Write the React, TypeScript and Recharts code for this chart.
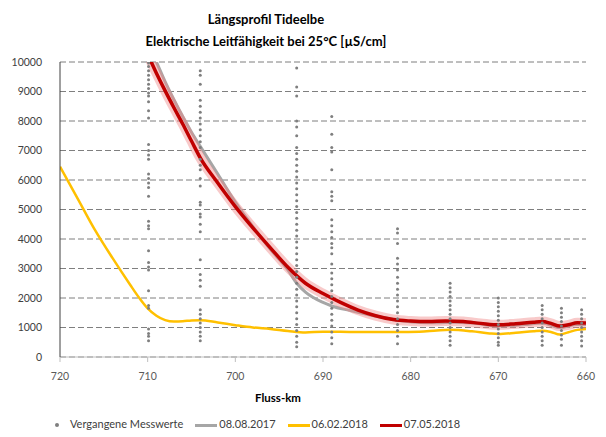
import React from 'react';
import { ComposedChart, Line, Scatter, XAxis, YAxis, CartesianGrid } from 'recharts';

// Messstellen (Fluss-km) und vergangene Messwerte je Station
const pastKm = [709.9, 704, 693, 689, 681.5, 675.5, 670, 665, 662.8, 660.5];
const pastValues = [
  [9970, 9850, 9700, 9550, 9400, 9250, 9100, 8950, 8850, 8650, 8350, 8100, 7200, 7000, 6850, 6700, 6200, 6050, 5900, 5750, 5450, 4600, 4450, 4350, 3600, 3200, 3050, 2950, 2250, 1750, 1650, 950, 800, 700, 550],
  [9700, 9550, 9250, 8700, 8500, 8300, 8100, 7900, 7700, 7500, 7300, 7100, 6700, 6500, 6350, 6050, 5800, 5250, 5150, 4850, 4750, 4500, 4250, 3300, 2800, 2600, 2400, 1600, 1450, 1300, 1150, 1000, 850, 700, 550],
  [9800, 9150, 8850, 8000, 7800, 7500, 7100, 6900, 6700, 6500, 6300, 6100, 5900, 5700, 5500, 5300, 5100, 4900, 4700, 4500, 4300, 4100, 3900, 3700, 3500, 3300, 3100, 2900, 2700, 2500, 2300, 2100, 1900, 1700, 1500, 1300, 1100, 900, 700, 500, 350],
  [8150, 7550, 7100, 6950, 6350, 5600, 5450, 5300, 4650, 4450, 4250, 4050, 3850, 3700, 3500, 3150, 2850, 2650, 2450, 2250, 2050, 1850, 1650, 1450, 1250, 1050, 850, 650, 450],
  [4350, 4200, 3850, 3350, 3150, 2950, 2700, 2500, 2300, 2100, 1900, 1700, 1500, 1300, 1100, 900, 700, 450],
  [2500, 2350, 2200, 2050, 1900, 1750, 1600, 1450, 1300, 1150, 1000, 850, 700, 550, 400],
  [2000, 1850, 1700, 1550, 1400, 1250, 1100, 950, 800, 650, 500, 400],
  [1750, 1600, 1450, 1300, 1150, 1000, 850, 700, 550, 400],
  [1650, 1500, 1350, 1200, 1050, 900, 750, 600, 400],
  [1600, 1450, 1300, 1150, 1000, 850, 700, 550, 370],
];

// 08.08.2017
const km2017 = [709.8, 709, 708, 707, 706, 705, 704, 702, 700, 698, 696, 694, 693, 692, 690, 689, 687, 685, 683, 681, 679, 677, 675, 673, 670, 667, 665, 663, 661, 660];
const val2017 = [10500, 10000, 9330, 8720, 8150, 7620, 7140, 6200, 5250, 4420, 3650, 2950, 2500, 2200, 1850, 1730, 1580, 1450, 1330, 1230, 1170, 1160, 1180, 1150, 1050, 1100, 1150, 1000, 1100, 1100];

// 06.02.2018
const km0602 = [720, 718, 716, 714, 712, 711, 710, 709, 708, 707, 706, 705, 704, 702, 700, 698, 696, 694, 692, 690, 689, 687, 685, 683, 681.5, 679, 677, 675.5, 673, 671, 670, 668, 666, 665, 664, 663, 662, 661, 660];
const val0602 = [6450, 5380, 4300, 3350, 2450, 2020, 1650, 1400, 1250, 1200, 1210, 1240, 1250, 1170, 1080, 1000, 950, 880, 830, 860, 860, 850, 850, 850, 850, 860, 900, 920, 870, 800, 780, 820, 870, 890, 850, 760, 840, 920, 950];

// 07.05.2018
const km0705 = [710.5, 709, 708, 707, 706, 705, 704, 702, 700, 698, 696, 694, 692, 690, 688, 686, 684, 682, 680, 678, 676, 674, 672, 670, 668, 666, 665, 664, 663, 662, 661, 660];
const val0705 = [10600, 9620, 9020, 8450, 7900, 7320, 6750, 5900, 5100, 4380, 3700, 3040, 2500, 2150, 1850, 1590, 1400, 1270, 1220, 1200, 1220, 1200, 1140, 1090, 1130, 1180, 1200, 1140, 1050, 1090, 1160, 1150];

const yTicks = [0, 1000, 2000, 3000, 4000, 5000, 6000, 7000, 8000, 9000, 10000];
const xTicks = [720, 710, 700, 690, 680, 670, 660];

const toSeries = (km: number[], v: number[]) => km.map((x, i) => ({ x, y: v[i] }));
const past = pastKm.flatMap((x, i) => pastValues[i].map((y) => ({ x, y })));
const s2017 = toSeries(km2017, val2017);
const s0602 = toSeries(km0602, val0602);
const s0705 = toSeries(km0705, val0705);

const font = 'Lato, "Open Sans", sans-serif';

const Dot = (p: any) => <circle cx={p.cx} cy={p.cy} r={1.5} fill="#7f7f7f" />;

const LegendLine = ({ color }: { color: string }) => (
  <span style={{ display: 'inline-block', width: 22, height: 3, background: color, verticalAlign: 'middle', marginRight: 2 }} />
);

export default function App() {
  return (
    <div style={{ position: 'absolute', left: 0, top: 0, width: 606, height: 437, background: '#fff', fontFamily: font }}>
      <div style={{ position: 'absolute', left: 116, width: 300, top: 8, textAlign: 'center', fontWeight: 700, fontSize: 13, lineHeight: '22px', color: '#000' }}>
        Längsprofil Tideelbe
        <br />
        Elektrische Leitfähigkeit bei 25°C [µS/cm]
      </div>
      <ComposedChart width={606} height={437} margin={{ top: 62, right: 20, bottom: 50, left: 0 }}>
        <CartesianGrid vertical={false} stroke="#7f7f7f" strokeDasharray="6 3" />
        <XAxis
          type="number"
          dataKey="x"
          domain={[660, 720]}
          reversed
          ticks={xTicks}
          interval={0}
          height={30}
          stroke="#bfbfbf"
          tickSize={5}
          tickMargin={11}
          tick={{ fill: '#595959', fontSize: 10.5, fontFamily: font }}
          allowDataOverflow
        />
        <XAxis xAxisId="top" orientation="top" type="number" domain={[660, 720]} reversed height={0} tick={false} tickLine={false} stroke="#595959" />
        <YAxis
          type="number"
          dataKey="y"
          domain={[0, 10000]}
          ticks={yTicks}
          interval={0}
          width={60}
          allowDataOverflow
          stroke="#404040"
          tickLine={false}
          tickMargin={12}
          tick={{ fill: '#404040', fontSize: 10.5, fontFamily: font }}
        />
        <YAxis yAxisId="right" orientation="right" domain={[0, 10000]} width={0} tick={false} tickLine={false} stroke="#bfbfbf" />
        <Line data={s2017} dataKey="y" type="monotone" stroke="#a6a6a6" strokeWidth={3} dot={false} isAnimationActive={false} />
        <Line data={s0602} dataKey="y" type="monotone" stroke="#ffc000" strokeWidth={2.5} dot={false} isAnimationActive={false} />
        <Line data={s0705} dataKey="y" type="monotone" stroke="#f08a8a" strokeOpacity={0.45} strokeWidth={10} dot={false} isAnimationActive={false} />
        <Line data={s0705} dataKey="y" type="monotone" stroke="#c00000" strokeWidth={3.5} dot={false} isAnimationActive={false} />
        <Scatter data={past} dataKey="y" shape={Dot} isAnimationActive={false} />
      </ComposedChart>
      <div style={{ position: 'absolute', left: 228, width: 100, top: 391, textAlign: 'center', fontWeight: 700, fontSize: 11.5, color: '#000' }}>
        Fluss-km
      </div>
      <div style={{ position: 'absolute', left: 55, top: 415, fontSize: 11, color: '#404040', whiteSpace: 'nowrap', lineHeight: '18px' }}>
        <span style={{ display: 'inline-block', width: 4, height: 4, borderRadius: 2, background: '#7f7f7f', verticalAlign: 'middle', marginRight: 11 }} />
        <span style={{ marginRight: 12 }}>Vergangene Messwerte</span>
        <LegendLine color="#a6a6a6" />
        <span style={{ marginRight: 12 }}>08.08.2017</span>
        <LegendLine color="#ffc000" />
        <span style={{ marginRight: 12 }}>06.02.2018</span>
        <LegendLine color="#c00000" />
        <span>07.05.2018</span>
      </div>
    </div>
  );
}
